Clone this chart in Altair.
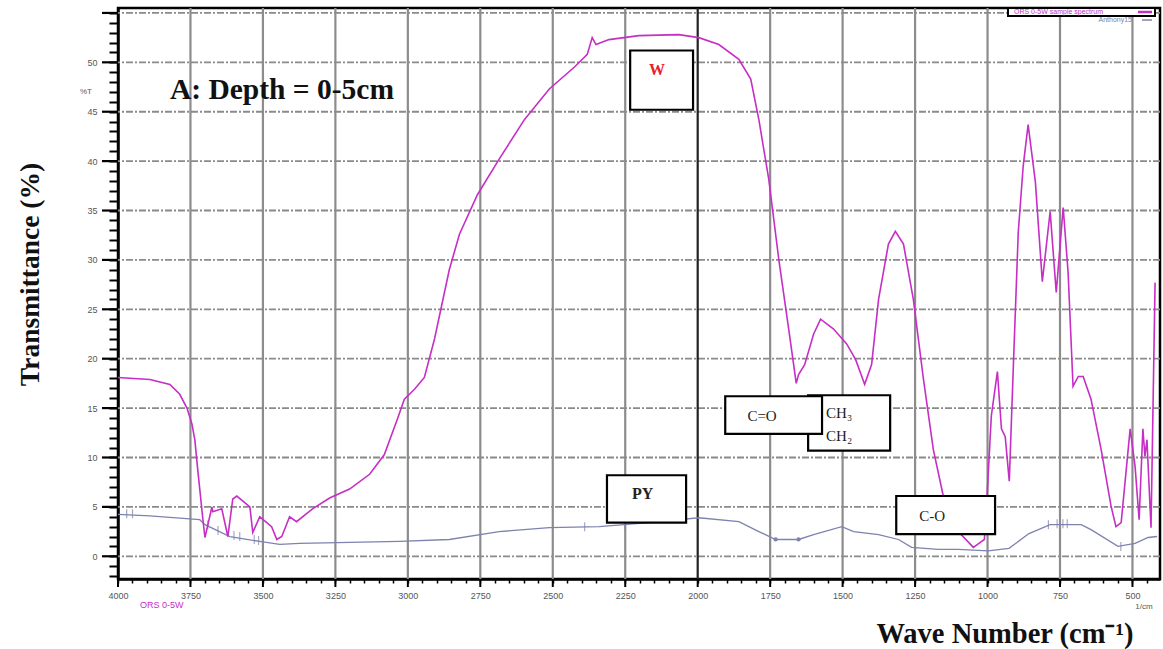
import altair as alt
import pandas as pd

# ---- spectrum W (magenta) ----
w_wn = [4000, 3890, 3821, 3787, 3762, 3745, 3735, 3725, 3707, 3700, 3676, 3673, 3642, 3621,
        3604, 3590, 3545, 3535, 3511, 3470, 3452, 3435, 3408, 3384, 3329, 3270, 3201, 3132,
        3081, 3036, 3012, 2977, 2943, 2908, 2857, 2822, 2760, 2685, 2598, 2512, 2426, 2381,
        2364, 2351, 2306, 2203, 2065, 1996, 1927, 1858, 1817, 1789, 1755, 1720, 1686, 1660,
        1652, 1631, 1600, 1576, 1531, 1486, 1455, 1424, 1400, 1376, 1342, 1318, 1290, 1256,
        1221, 1187, 1152, 1091, 1049, 1025, 1011, 1004, 987, 966, 952, 939, 925, 911, 894,
        877, 860, 835, 811, 784, 763, 739, 722, 705, 687, 670, 643, 608, 574, 557, 539, 508,
        491, 477, 464, 457, 450, 436, 422]
w_t = [18.1, 17.9, 17.4, 16.4, 15.0, 13.4, 11.8, 8.8, 3.7, 1.9, 5.0, 4.5, 4.8, 2.0,
       5.8, 6.1, 5.0, 2.4, 4.0, 3.0, 1.7, 2.0, 4.0, 3.5, 4.8, 5.9, 6.8, 8.3,
       10.3, 13.9, 15.9, 16.9, 18.1, 22.0, 29.0, 32.6, 36.6, 40.2, 44.2, 47.3, 49.5, 50.8,
       52.5, 51.8, 52.3, 52.7, 52.8, 52.5, 51.8, 50.3, 48.3, 44.2, 38.2, 30.0, 23.0, 17.5,
       18.4, 19.4, 22.5, 24.0, 23.0, 21.5, 19.9, 17.4, 19.4, 26.0, 31.6, 32.9, 31.6, 26.0,
       17.9, 10.8, 6.0, 2.2, 0.9, 1.4, 1.7, 4.8, 14.2, 18.7, 12.9, 12.1, 7.6, 19.2, 32.8,
       39.5, 43.7, 37.9, 27.8, 34.9, 26.7, 35.3, 28.7, 17.2, 18.2, 18.2, 15.9, 10.8, 5.1, 3.0, 3.4, 12.9,
       9.1, 3.7, 12.9, 10.1, 11.8, 2.9, 27.7]

# ---- spectrum PY (slate) ----
py_wn = [4000, 3890, 3718, 3700, 3614, 3511, 3442, 3373, 3029, 2857, 2685, 2512, 2340, 2168,
         1996, 1858, 1789, 1731, 1652, 1600, 1503, 1462, 1376, 1307, 1262, 1170, 1101, 998,
         926, 857, 784, 677, 643, 550, 491, 446, 415]
py_t = [4.25, 4.1, 3.7, 3.2, 2.0, 1.5, 1.2, 1.3, 1.5, 1.7, 2.5, 2.9, 3.0, 3.4,
        3.9, 3.5, 2.5, 1.7, 1.7, 2.2, 3.0, 2.5, 2.2, 1.7, 0.9, 0.7, 0.7, 0.55,
        0.8, 2.3, 3.2, 3.2, 2.7, 1.0, 1.3, 1.9, 2.0]

# peak-pick markers on the PY trace
pym_wn = [3970, 3950, 3690, 3655, 3600, 3580, 3530, 3515, 2390, 2250, 790, 760, 740, 725, 540]
pym_t = [4.3, 4.3, 3.2, 2.6, 2.1, 2.0, 1.7, 1.6, 3.0, 3.2, 3.2, 3.3, 3.3, 3.3, 1.0]
pyd_wn = [1731, 1652]
pyd_t = [1.7, 1.7]

# ---- annotation boxes (data units) ----
box_names = ["CH", "C=O", "W", "PY", "C-O"]
box_x1 = [1619, 1905, 2233, 2313, 1315]
box_x2 = [1336, 1571, 2016, 2040, 974]
box_y1 = [16.3, 16.2, 51.2, 8.2, 6.1]
box_y2 = [10.7, 12.4, 45.2, 3.4, 2.25]

center_text = ["C=O", "C-O"]
center_wn = [1778, 1191]
center_t = [14.2, 4.1]

left_text = ["CH\u2083", "CH\u2082"]
left_wn = [1557, 1557]
left_t = [14.5, 12.2]

bold_text = ["W", "PY"]
bold_wn = [2140, 2190]
bold_t = [49.2, 6.3]
bold_color = ["#e8202a", "#222222"]

# ---- ticks / grid ----
x_ticks_minor = list(range(450, 4001, 50))
x_grid = [3750, 3500, 3250, 3000, 2750, 2500, 2250, 1750, 1500, 1250, 1000, 750, 500]
x_grid_dark = [2000]
x_major = [4000, 3750, 3500, 3250, 3000, 2750, 2500, 2250, 2000, 1750, 1500, 1250, 1000, 750, 500]
y_ticks_minor = list(range(-2, 56))
y_major = [0, 5, 10, 15, 20, 25, 30, 35, 40, 45, 50, 55]

W, H = 1042, 571
MAG = "#c62ec6"
SLATE = "#7e82ae"

xs = alt.Scale(domain=[405, 4000], reverse=True, nice=False, zero=False)
ys = alt.Scale(domain=[-2.3, 55.5], nice=False, zero=False)

x_axis = alt.Axis(
    values=x_ticks_minor,
    labelExpr="datum.value % 250 === 0 ? datum.value : ''",
    tickSize=4, tickWidth=1.5, tickColor="black",
    domainColor="black", domainWidth=2.5,
    labelFontSize=9, labelColor="#555555", labelFont="Liberation Sans",
    labelPadding=8, labelFlush=False, labelOverlap=False, grid=False,
    title="Wave Number (cm\u207b\u00b9)", titleFont="Liberation Serif",
    titleFontSize=28.5, titleFontWeight="bold", titleColor="#111111",
    titleX=1015, titleY=54, titleAlign="right", titleBaseline="middle",
)
y_axis = alt.Axis(
    values=y_ticks_minor,
    labelExpr="(datum.value % 5 === 0 && datum.value >= 0 && datum.value <= 50) ? datum.value : ''",
    tickSize=9, tickWidth=2, tickColor="black",
    domainColor="black", domainWidth=2.5,
    labelFontSize=9, labelColor="#555555", labelFont="Liberation Sans",
    labelPadding=12, labelFlush=False, labelOverlap=False, grid=False,
    title="Transmittance (%)", titleFont="Liberation Serif",
    titleFontSize=27.5, titleFontWeight="bold", titleColor="#111111",
    titleX=-88, titleY=266, titleAngle=270, titleAlign="center", titleBaseline="middle",
)


def X(f):
    return alt.X(f"{f}:Q", scale=xs, axis=x_axis)


def Y(f):
    return alt.Y(f"{f}:Q", scale=ys, axis=y_axis)


df_w = pd.DataFrame({"wn": w_wn, "t": w_t})
df_py = pd.DataFrame({"wn": py_wn, "t": py_t})
df_box = pd.DataFrame({"name": box_names, "x1": box_x1, "x2": box_x2, "y1": box_y1, "y2": box_y2})

hgrid = alt.Chart(pd.DataFrame({"y": y_major})).mark_rule(
    color="#8a8a8a", strokeWidth=1.8, strokeDash=[7, 2, 2, 2]
).encode(y=Y("y"))

vgrid = alt.Chart(pd.DataFrame({"x": x_grid})).mark_rule(
    color="#8c8c8c", strokeWidth=2.2
).encode(x=X("x"))

vgrid2 = alt.Chart(pd.DataFrame({"x": x_grid_dark})).mark_rule(
    color="#222222", strokeWidth=2.2
).encode(x=X("x"))

py_line = alt.Chart(df_py).mark_line(color=SLATE, strokeWidth=1.3).encode(x=X("wn"), y=Y("t"))
py_marks = alt.Chart(pd.DataFrame({"wn": pym_wn, "t": pym_t})).mark_tick(
    color=SLATE, thickness=1.2, size=9, orient="vertical"
).encode(x=X("wn"), y=Y("t"))
py_dots = alt.Chart(pd.DataFrame({"wn": pyd_wn, "t": pyd_t})).mark_point(
    color=SLATE, filled=True, size=18, opacity=1
).encode(x=X("wn"), y=Y("t"))
w_line = alt.Chart(df_w).mark_line(color=MAG, strokeWidth=1.6).encode(x=X("wn"), y=Y("t"))

boxes = alt.Chart(df_box).mark_rect(fill="white", stroke="black", strokeWidth=2.2).encode(
    x=X("x1"), x2="x2:Q", y=Y("y1"), y2="y2:Q",
)

center_labels = alt.Chart(pd.DataFrame({"txt": center_text, "wn": center_wn, "t": center_t})).mark_text(
    font="Liberation Serif", fontSize=15, color="#222222", baseline="middle", align="center"
).encode(text="txt:N", x=X("wn"), y=Y("t"))

left_labels = alt.Chart(pd.DataFrame({"txt": left_text, "wn": left_wn, "t": left_t})).mark_text(
    font="Liberation Serif", fontSize=15, color="#222222", baseline="middle", align="left"
).encode(text="txt:N", x=X("wn"), y=Y("t"))

bold_labels = alt.Chart(pd.DataFrame({"txt": bold_text, "wn": bold_wn, "t": bold_t, "c": bold_color})).mark_text(
    font="Liberation Serif", fontSize=16, fontWeight="bold", baseline="middle", align="center"
).encode(text="txt:N", color=alt.Color("c:N", scale=None), x=X("wn"), y=Y("t"))

panel_title = alt.Chart(pd.DataFrame({"txt": ["A: Depth = 0-5cm"], "wn": [3821], "t": [47.2]})).mark_text(
    font="Liberation Serif", fontSize=29.5, fontWeight="bold", color="#111111",
    align="left", baseline="middle"
).encode(text="txt:N", x=X("wn"), y=Y("t"))

y_major_ticks = alt.Chart(pd.DataFrame({"y": y_major})).mark_rule(
    color="black", strokeWidth=2.2
).encode(y=Y("y"), x=alt.value(-16), x2=alt.value(0))

x_major_ticks = alt.Chart(pd.DataFrame({"x": x_major})).mark_rule(
    color="black", strokeWidth=2
).encode(x=X("x"), y=alt.value(H), y2=alt.value(H + 8))


def pix_text(txt, px, py, color, size, align):
    return alt.Chart(pd.DataFrame({"txt": [txt]})).mark_text(
        font="Liberation Sans", baseline="middle", align=align, color=color, fontSize=size
    ).encode(text="txt:N", x=alt.value(px), y=alt.value(py))


misc = [
    pix_text("%T", -32, 84, "#555555", 8, "center"),
    pix_text("1/cm", 1026, 599, "#555555", 8, "center"),
    pix_text("ORS 0-5W", 22, 597, MAG, 9, "left"),
    pix_text("ORS 0-5W  sample spectrum", 896, 4, MAG, 7, "left"),
    pix_text("Anthony15", 1014, 12, SLATE, 7, "right"),
]

legend_box = alt.Chart(pd.DataFrame({"a": [0]})).mark_rect(
    fill="white", stroke="black", strokeWidth=2
).encode(x=alt.value(890), x2=alt.value(1037), y=alt.value(0), y2=alt.value(8))
legend_l1 = alt.Chart(pd.DataFrame({"a": [0]})).mark_rule(color=MAG, strokeWidth=2.5).encode(
    x=alt.value(1020), x2=alt.value(1034), y=alt.value(4))
legend_l2 = alt.Chart(pd.DataFrame({"a": [0]})).mark_rule(color=SLATE, strokeWidth=1.5).encode(
    x=alt.value(1024), x2=alt.value(1034), y=alt.value(12))

chart = alt.layer(
    hgrid, vgrid, vgrid2, py_line, py_marks, py_dots, w_line, boxes, center_labels, left_labels,
    bold_labels, panel_title, y_major_ticks, x_major_ticks, legend_box, legend_l1, legend_l2, *misc
).properties(
    width=W, height=H,
    background="white",
    autosize=alt.AutoSizeParams(type="none"),
    padding={"left": 118, "top": 8, "right": 3, "bottom": 70},
).configure_view(stroke="black", strokeWidth=2.5)

chart.save("out.html", embed_options={"renderer": "svg", "actions": False})
